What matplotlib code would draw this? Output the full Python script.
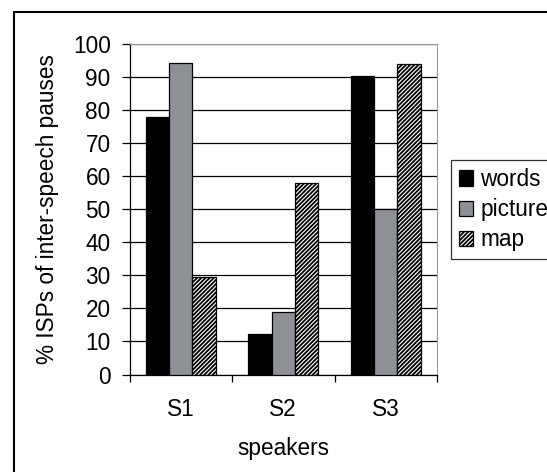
import matplotlib
matplotlib.use("Agg")
import matplotlib.pyplot as plt
from matplotlib.patches import Rectangle
import numpy as np

plt.rcParams['font.family'] = ['Liberation Sans', 'DejaVu Sans']
plt.rcParams['hatch.linewidth'] = 1.3

speakers = ["S1", "S2", "S3"]
series = ["words", "picture", "map"]
words = [78.0, 12.3, 90.3]
picture = [94.3, 18.9, 50.0]
map_vals = [29.4, 58.0, 94.0]
y_ticks = [0, 10, 20, 30, 40, 50, 60, 70, 80, 90, 100]

FS = 16.3
W, H = 547, 472
fig = plt.figure(figsize=(W / 100, H / 100), dpi=100)
fig.patch.set_facecolor('white')

# outer frame (cut at right and bottom)
fig.patches.append(Rectangle((14 / W, -0.1), 1.2, (H - 12) / H + 0.1,
                             transform=fig.transFigure, fill=False,
                             edgecolor='black', linewidth=1.5, zorder=0))

ax = fig.add_axes([129.5 / W, 1 - 374.5 / H, 307.5 / W, 330.5 / H])
x = np.arange(len(speakers))
bw = 0.227
styles = [
    dict(color='black', edgecolor='black'),
    dict(color='#8d9095', edgecolor='black'),
    dict(color='white', edgecolor='black', hatch='////////'),
]
for i, (vals, st, name) in enumerate(zip([words, picture, map_vals], styles, series)):
    ax.bar(x + (i - 1) * bw, vals, width=bw, linewidth=0.9, label=name, zorder=3, **st)

ax.set_xlim(-0.5, 2.5)
ax.set_ylim(0, 100)
ax.set_yticks(y_ticks)
ax.yaxis.grid(True, color='black', linewidth=0.9, zorder=0)
ax.set_axisbelow(True)
ax.tick_params(axis='y', direction='out', length=6, width=0.9, pad=7.5, labelsize=FS)
ax.set_xticks(x)
ax.set_xticklabels(speakers)
ax.tick_params(axis='x', which='major', length=0, pad=17, labelsize=FS)
ax.set_xticks([-0.5, 0.5, 1.5, 2.5], minor=True)
ax.tick_params(axis='x', which='minor', direction='out', length=5, width=0.9)

for s in ['top', 'right']:
    ax.spines[s].set_color('#999999')
for s in ['left', 'bottom']:
    ax.spines[s].set_color('black')
    ax.spines[s].set_linewidth(0.9)

ax.set_ylabel('% ISPs of inter-speech pauses', fontsize=FS)
ax.yaxis.set_label_coords(-0.229, 0.5)
ax.set_xlabel('speakers', fontsize=FS)
ax.xaxis.set_label_coords(0.5, -0.189)

leg = ax.legend(loc='upper left', bbox_to_anchor=(450.7 / W, 1 - 160 / H),
                bbox_transform=fig.transFigure, borderaxespad=0,
                fontsize=FS, frameon=True, fancybox=False, edgecolor='black',
                handlelength=0.65, handleheight=0.65, handletextpad=0.3,
                labelspacing=0.32, borderpad=0.35)
leg.get_frame().set_linewidth(0.9)

fig.savefig('out.png', dpi=100)
